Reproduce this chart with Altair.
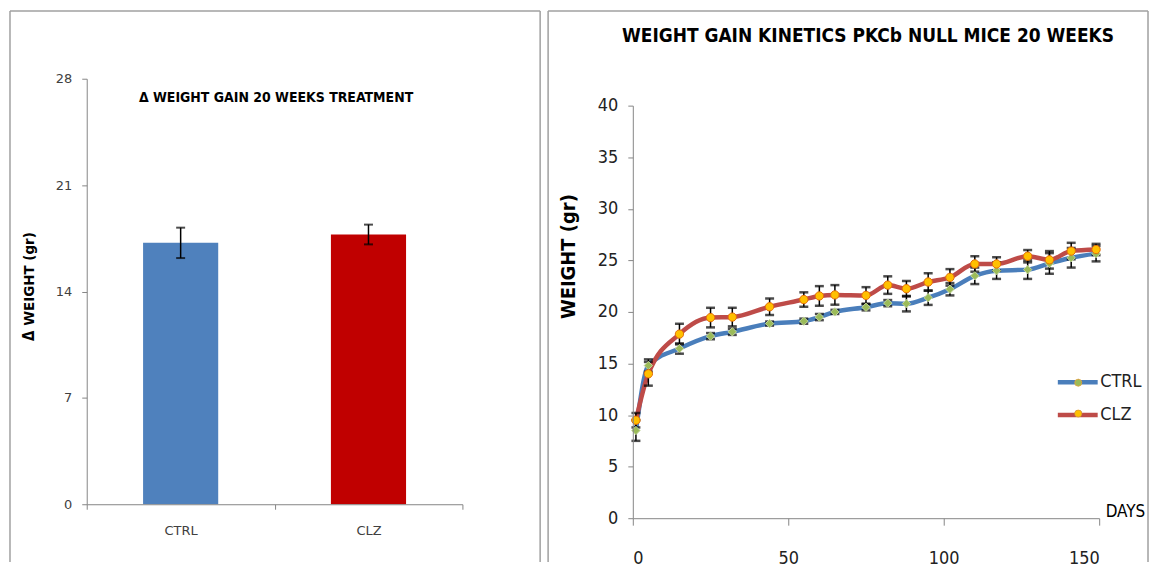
import altair as alt
import pandas as pd

# ---------------- data ----------------
groups = ["CTRL", "CLZ"]
delta_weight = [17.2, 17.75]
delta_err = [1.0, 0.65]

days = [1, 5, 15, 25, 32, 44, 55, 60, 65, 75, 82, 88, 95, 102, 110, 117, 127, 134, 141, 149]
ctrl_w = [8.5, 14.8, 16.45, 17.65, 18.07, 18.87, 19.1, 19.5, 20.0, 20.45,
          20.85, 20.8, 21.38, 22.2, 23.5, 24.0, 24.1, 24.7, 25.25, 25.65]
ctrl_e = [1.0, 0.6, 0.5, 0.3, 0.3, 0.2, 0.25, 0.3, 0.2, 0.3,
          0.3, 0.75, 0.7, 0.6, 0.8, 0.8, 0.9, 1.0, 0.95, 0.75]
clz_w = [9.5, 14.0, 17.85, 19.45, 19.5, 20.5, 21.2, 21.55, 21.65, 21.6,
         22.6, 22.25, 22.9, 23.35, 24.65, 24.65, 25.4, 25.05, 25.9, 26.05]
clz_e = [0.7, 1.15, 1.0, 0.95, 0.9, 0.8, 0.7, 0.95, 0.95, 0.8,
         0.85, 0.75, 0.85, 0.8, 0.75, 0.65, 0.6, 0.85, 0.8, 0.55]

left_title = "Δ WEIGHT GAIN 20 WEEKS TREATMENT"
right_title = "WEIGHT GAIN KINETICS PKCb NULL MICE  20 WEEKS"
left_ticks = [0, 7, 14, 21, 28]
right_yticks = [0, 5, 10, 15, 20, 25, 30, 35, 40]
right_xticks = [0, 50, 100, 150]

FONT = "Liberation Sans Narrow, DejaVu Sans Condensed, sans-serif"
FONT_W = "DejaVu Sans, sans-serif"
AX = "#868686"
LBL = "#404040"
FRAME = "#a0a0a0"

# plot origins in page px: left (85, 103), right (630, 103)
# ---------------- left panel ----------------
W1, H1 = 377, 400          # plot drawn from page y 76 to 503 via range
bar_df = pd.DataFrame({"group": groups, "value": delta_weight, "err": delta_err})
bar_df["lo"] = bar_df["value"] - bar_df["err"]
bar_df["hi"] = bar_df["value"] + bar_df["err"]

yscaleL = alt.Scale(domain=[0, 28], nice=False, range=[400, -27])
xL = alt.X("group:N", sort=groups,
           scale=alt.Scale(paddingInner=0, paddingOuter=0),
           axis=alt.Axis(title=None, labelAngle=0, tickBand="extent", tickSize=5,
                         labelPadding=15, labelFontSize=13, labelColor=LBL,
                         labelFont=FONT_W, domainColor=AX, tickColor=AX, grid=False,
                         zindex=1))
yL = alt.Y("value:Q", scale=yscaleL,
           axis=alt.Axis(values=left_ticks, title="Δ WEIGHT (gr)", grid=False,
                         titleFont=FONT, titleFontSize=15, titleFontWeight="bold",
                         titleColor="black", titleX=-50, titleY=181,
                         labelFont=FONT_W, labelFontSize=13, labelColor=LBL,
                         tickSize=5, labelPadding=10, domainColor=AX, tickColor=AX,
                         zindex=1))

frame_df = pd.DataFrame({"a": [0]})
frameL = [
    alt.Chart(frame_df).mark_rule(color=FRAME, strokeWidth=1.5).encode(
        x=alt.value(-77), y=alt.value(-95), y2=alt.value(458)),
    alt.Chart(frame_df).mark_rule(color=FRAME, strokeWidth=1.5).encode(
        x=alt.value(455), y=alt.value(-95), y2=alt.value(458)),
    alt.Chart(frame_df).mark_rule(color=FRAME, strokeWidth=1.5).encode(
        x=alt.value(-77), x2=alt.value(455), y=alt.value(-95)),
]

bars = alt.Chart(bar_df).mark_bar(width=alt.RelativeBandSize(0.4)).encode(
    x=xL, y=yL,
    color=alt.Color("group:N", scale=alt.Scale(domain=groups, range=["#4F81BD", "#C00000"]),
                    legend=None),
)
bar_rule = alt.Chart(bar_df).mark_rule(color="black", strokeWidth=1.5).encode(
    x=alt.X("group:N", sort=groups), y=alt.Y("lo:Q", scale=yscaleL), y2="hi:Q")
bar_cap_lo = alt.Chart(bar_df).mark_tick(color="black", size=9, thickness=2,
                                         orient="horizontal").encode(
    x=alt.X("group:N", sort=groups), y=alt.Y("lo:Q", scale=yscaleL))
bar_cap_hi = alt.Chart(bar_df).mark_tick(color="black", size=9, thickness=2,
                                         orient="horizontal").encode(
    x=alt.X("group:N", sort=groups), y=alt.Y("hi:Q", scale=yscaleL))
titleL = alt.Chart(pd.DataFrame({"t": [left_title]})).mark_text(
    font=FONT, fontSize=14, fontWeight="bold", color="black", align="center",
    baseline="middle"
).encode(text="t:N", x=alt.value(190), y=alt.value(-8))

left = alt.layer(*frameL, bars, bar_rule, bar_cap_lo, bar_cap_hi, titleL).properties(
    width=W1, height=H1)

# ---------------- right panel ----------------
W2, H2 = 468, 414
rows = []
for s, ws, es in (("CTRL", ctrl_w, ctrl_e), ("CLZ", clz_w, clz_e)):
    for d, w, e in zip(days, ws, es):
        rows.append({"series": s, "marker": s, "day": d, "w": w, "lo": w - e, "hi": w + e})
kin = pd.DataFrame(rows)
series = ["CTRL", "CLZ"]

xR = alt.X("day:Q", scale=alt.Scale(domain=[0, 150], nice=False),
           axis=alt.Axis(values=right_xticks, title="DAYS", grid=False,
                         titleFont=FONT, titleFontSize=17, titleFontWeight="normal",
                         titleColor="black", titleX=474, titleY=-2, titleAlign="left",
                         titleBaseline="alphabetic", titleAngle=0,
                         labelFont=FONT, labelFontSize=18, labelColor="#222222",
                         tickSize=7, labelPadding=24, domainColor=AX, tickColor=AX,
                         zindex=1))
yR = alt.Y("w:Q", scale=alt.Scale(domain=[0, 40], nice=False),
           axis=alt.Axis(values=right_yticks, title="WEIGHT (gr)", grid=False,
                         titleFont=FONT, titleFontSize=20, titleFontWeight="bold",
                         titleColor="black", titleX=-55, titleY=151,
                         labelFont=FONT, labelFontSize=18, labelColor="#222222",
                         tickSize=5, labelPadding=10, domainColor=AX, tickColor=AX,
                         zindex=1))

frameR = [
    alt.Chart(frame_df).mark_rule(color=FRAME, strokeWidth=1.5).encode(
        x=alt.value(-85), y=alt.value(-95), y2=alt.value(458)),
    alt.Chart(frame_df).mark_rule(color=FRAME, strokeWidth=1.5).encode(
        x=alt.value(517), y=alt.value(-95), y2=alt.value(458)),
    alt.Chart(frame_df).mark_rule(color=FRAME, strokeWidth=1.5).encode(
        x=alt.value(-85), x2=alt.value(517), y=alt.value(-95)),
]

LEGX, LEGY = 424, 255
marker_legend = alt.Legend(title=None, orient="none", legendX=LEGX, legendY=LEGY + 14,
                           symbolSize=50, symbolOffset=14, labelExpr="''",
                           labelFontSize=18, rowPadding=13,
                           symbolStrokeColor="#E8A33A", symbolStrokeWidth=0.8)
lines = alt.Chart(kin).mark_line(interpolate="monotone", strokeWidth=4.5).encode(
    x=xR, y=yR,
    color=alt.Color("series:N", scale=alt.Scale(domain=series, range=["#4A7EBB", "#BE4B48"]),
                    legend=alt.Legend(title=None, orient="none", legendX=LEGX, legendY=LEGY,
                                      symbolType="stroke", symbolSize=1600,
                                      symbolStrokeWidth=4.5, labelFont=FONT,
                                      labelFontSize=18, labelColor="#222222",
                                      labelOffset=0, rowPadding=1)),
    detail="series:N",
)
err_rule = alt.Chart(kin).mark_rule(color="black", strokeWidth=1.5).encode(
    x="day:Q", y="lo:Q", y2="hi:Q")
err_lo = alt.Chart(kin).mark_tick(color="black", size=9, thickness=2.5,
                                  orient="horizontal").encode(x="day:Q", y="lo:Q")
err_hi = alt.Chart(kin).mark_tick(color="black", size=9, thickness=2.5,
                                  orient="horizontal").encode(x="day:Q", y="hi:Q")
pts = alt.Chart(kin).mark_point(filled=True, size=70, strokeWidth=1, opacity=1).encode(
    x="day:Q", y="w:Q",
    fill=alt.Fill("marker:N", sort=series,
                  scale=alt.Scale(range=["#9BBB59", "#FFC000"]), legend=marker_legend),
    shape=alt.Shape("marker:N", sort=series,
                    scale=alt.Scale(range=["diamond", "circle"]), legend=marker_legend),
    stroke=alt.Stroke("marker:N", sort=series,
                      scale=alt.Scale(range=["#C3D69B", "#E46C0A"]), legend=None),
)
titleR = alt.Chart(pd.DataFrame({"t": [right_title]})).mark_text(
    font=FONT, fontSize=19, fontWeight="bold", color="black", align="center",
    baseline="middle"
).encode(text="t:N", x=alt.value(236), y=alt.value(-70))

right = alt.layer(*frameR, lines, err_rule, err_lo, err_hi, pts, titleR).properties(
    width=W2, height=H2)

chart = alt.hconcat(left, right, spacing=4).resolve_scale(
    color="independent", fill="independent", stroke="independent", shape="independent"
).resolve_legend(color="independent").properties(padding=0).configure_view(
    stroke="transparent")

chart.save("out.html", embed_options={"renderer": "svg", "actions": False})
